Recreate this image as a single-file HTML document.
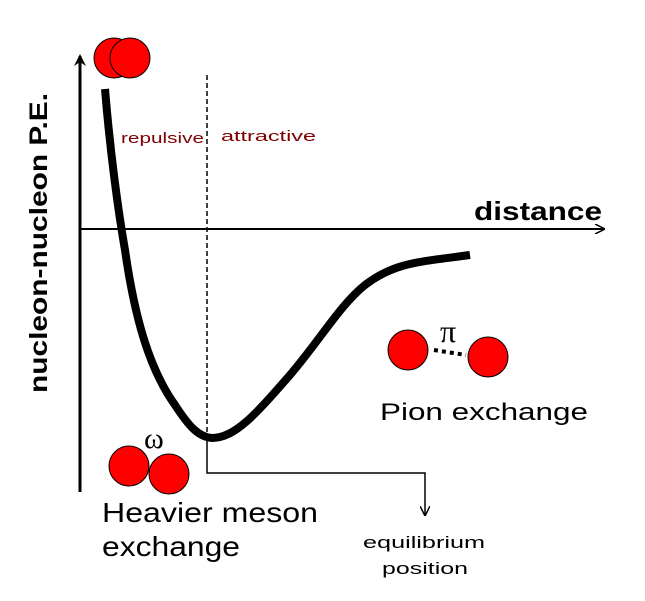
<!DOCTYPE html>
<html><head><style>body{margin:0;background:#fff}svg{display:block}</style></head><body>
<svg width="645" height="601" viewBox="0 0 645 601" xmlns="http://www.w3.org/2000/svg" font-family="Liberation Sans, sans-serif">
<defs><marker id="a" markerWidth="10" markerHeight="10" refX="9" refY="5" orient="auto" markerUnits="userSpaceOnUse"><path d="M0,0 L10,5 L0,10" fill="none" stroke="#000" stroke-width="1.5"/></marker>
<marker id="b" markerWidth="12" markerHeight="12" refX="10" refY="6" orient="auto" markerUnits="userSpaceOnUse"><path d="M0,0 L12,6 L0,12 L4,6 Z" fill="#000"/></marker></defs>
<line x1="80" y1="492" x2="80" y2="56" stroke="#000" stroke-width="3" marker-end="url(#b)"/>
<line x1="80" y1="229" x2="604" y2="229" stroke="#000" stroke-width="2" marker-end="url(#a)"/>
<line x1="207" y1="75" x2="207" y2="438" stroke="#000" stroke-width="1.5" stroke-dasharray="5,3"/>
<path d="M105,89 C110,150 118,210 125,250 C135,320 150,370 175,405 C188,425 198,437 212,438 C235,438 255,415 290,375 C320,340 340,305 365,285 C395,262 420,262 470,255" fill="none" stroke="#000" stroke-width="8"/>
<polyline points="207,438 207,473 425,473 425,515" fill="none" stroke="#000" stroke-width="1.5" marker-end="url(#a)"/>
<circle cx="114" cy="58" r="20" fill="#f00" stroke="#000"/>
<circle cx="130" cy="58" r="20" fill="#f00" stroke="#000"/>
<circle cx="129" cy="466" r="20" fill="#f00" stroke="#000"/>
<circle cx="169" cy="474" r="20" fill="#f00" stroke="#000"/>
<circle cx="408" cy="350" r="20" fill="#f00" stroke="#000"/>
<circle cx="488" cy="357" r="20" fill="#f00" stroke="#000"/>
<line x1="434" y1="350" x2="466" y2="355" stroke="#000" stroke-width="4" stroke-dasharray="4,4"/>
<text x="144" y="448" font-size="30" font-family="Liberation Serif, serif">ω</text>
<text x="440" y="342" font-size="32" font-family="Liberation Serif, serif">π</text>
<text x="121" y="143" font-size="15" fill="#800000" textLength="83" lengthAdjust="spacingAndGlyphs">repulsive</text>
<text x="221" y="141" font-size="15" fill="#800000" textLength="95" lengthAdjust="spacingAndGlyphs">attractive</text>
<text x="474" y="220" font-size="26" font-weight="bold" textLength="128" lengthAdjust="spacingAndGlyphs">distance</text>
<text transform="translate(47,243) rotate(-90)" text-anchor="middle" font-size="25" font-weight="bold" textLength="300" lengthAdjust="spacingAndGlyphs">nucleon-nucleon P.E.</text>
<text x="102" y="522" font-size="28" textLength="216" lengthAdjust="spacingAndGlyphs">Heavier meson</text>
<text x="102" y="556" font-size="28" textLength="138" lengthAdjust="spacingAndGlyphs">exchange</text>
<text x="380" y="420" font-size="24" textLength="208" lengthAdjust="spacingAndGlyphs">Pion exchange</text>
<text x="363" y="548" font-size="17" textLength="122" lengthAdjust="spacingAndGlyphs">equilibrium</text>
<text x="382" y="574" font-size="17" textLength="86" lengthAdjust="spacingAndGlyphs">position</text>
</svg>
</body></html>
